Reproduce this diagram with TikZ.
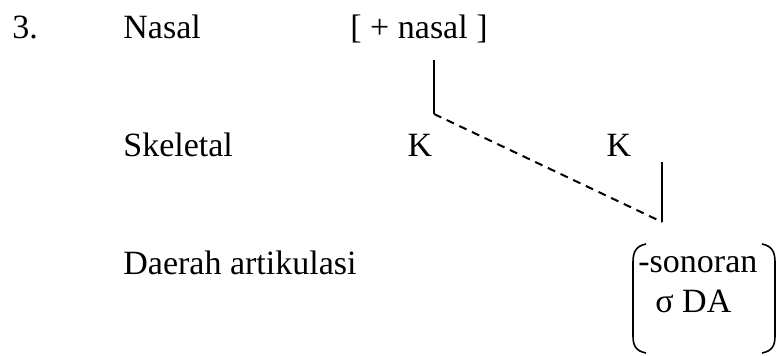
\documentclass[tikz,border=0pt]{standalone}
\usepackage{fontspec}
\setmainfont{Liberation Serif}
\usetikzlibrary{positioning}
\begin{document}
\begin{tikzpicture}[
    x=0.5pt, y=-0.5pt,
    every node/.style={inner sep=0pt, font=\fontsize{17}{20}\selectfont},
    tier/.style={anchor=base west},
    seg/.style={anchor=base},
    assoc/.style={line width=1pt},
    delink/.style={line width=1pt, dash pattern=on 4pt off 3pt},
    kurung/.style={line width=0.8pt}
]
\useasboundingbox (0,0) rectangle (776,356);

% label tingkat
\node[tier] (nomor) at (12,39) {3.};
\node[tier] (nasal) at (123,39) {Nasal};
\node[tier] (skeletal) at (123,157) {Skeletal};
\node[tier] (daerah) at (123,275) {Daerah artikulasi};

% fitur dan segmen
\node[seg] (fitur) at (419,39) {[ + nasal ]};
\node[seg] (k1) at (420,157) {K};
\node[seg] (k2) at (619,157) {K};

% matriks daerah artikulasi
\node[tier] (sonoran) at (638,273) {-sonoran};
\node[tier] (da) at (655,313) {σ DA};

\coordinate (atas) at (434,60);
\coordinate (tengah) at (434,114);
\coordinate (ujung) at (662,222);
\coordinate (k2bawah) at (662,162);

% garis asosiasi
\draw[assoc] (atas) -- (tengah);
\draw[delink] (tengah) -- (ujung);
\draw[assoc] (k2bawah) -- (ujung);

% kurung
\draw[kurung] (646,244) .. controls (636,246) and (633,252) .. (633,262) -- (633,336)
    .. controls (633,346) and (636,351) .. (646,353);
\draw[kurung] (762,244) .. controls (772,246) and (775,252) .. (775,262) -- (775,336)
    .. controls (775,346) and (772,351) .. (762,353);

\end{tikzpicture}
\end{document}
